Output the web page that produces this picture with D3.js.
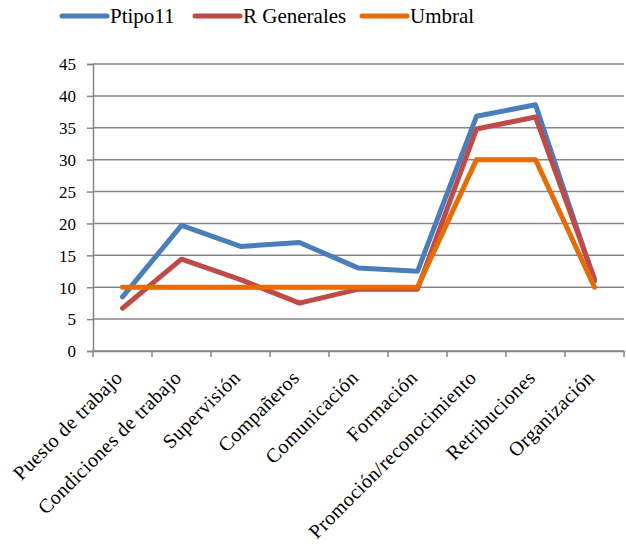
<!DOCTYPE html>
<html><head><meta charset="utf-8">
<script src="https://cdn.jsdelivr.net/npm/d3@7"></script>
<style>body{margin:0;background:#fff}svg{display:block}svg text{font-family:"Liberation Serif","Times New Roman",serif}</style>
</head><body>
<svg id="c" width="626" height="544"></svg>
<script>
const categories = ["Puesto de trabajo","Condiciones de trabajo","Supervisión","Compañeros","Comunicación","Formación","Promoción/reconocimiento","Retribuciones","Organización"];
const ptipo11 = [8.5, 19.7, 16.4, 17.0, 13.0, 12.5, 36.8, 38.6, 11.0];
const rGenerales = [6.7, 14.4, 11.2, 7.5, 9.7, 9.7, 34.8, 36.7, 11.3];
const umbral = [10, 10, 10, 10, 10, 10, 30, 30, 10];
const seriesNames = ["Ptipo11", "R Generales", "Umbral"];
const seriesColors = ["#4A7EBB", "#BE4B48", "#E46C0A"];
const yTicks = [0,5,10,15,20,25,30,35,40,45];

const svg = d3.select("#c");
const font = '"Liberation Serif", "Times New Roman", serif';
const m = {l:93, r:624, t:64, b:351};
const x = d3.scaleBand().domain(categories).range([m.l, m.r]);
const y = d3.scaleLinear().domain([0,45]).range([m.b, m.t]);

// gridlines
svg.append("g").selectAll("line").data(yTicks).join("line")
  .attr("x1", m.l).attr("x2", m.r)
  .attr("y1", d=>y(d)).attr("y2", d=>y(d))
  .attr("stroke", "#868686").attr("stroke-width", 1.5);

// y axis
const ya = svg.append("g").attr("transform", `translate(${m.l},0)`)
  .call(d3.axisLeft(y).tickValues(yTicks).tickSize(6).tickPadding(11).tickFormat(d3.format("d")));
ya.attr("font-family", null).attr("font-size", null);
ya.select(".domain").attr("stroke", "#868686").attr("stroke-width", 1.5);
ya.selectAll(".tick line").attr("stroke", "#868686").attr("stroke-width", 1.5);
ya.selectAll("text").style("font-family", font).style("font-size", "17px").attr("fill", "#000").attr("dy", "0.34em");

// x axis
const xa = svg.append("g").attr("transform", `translate(0,${m.b})`)
  .call(d3.axisBottom(x).tickSize(0).tickFormat(""));
xa.attr("font-family", null).attr("font-size", null);
xa.select(".domain").attr("stroke", "#868686").attr("stroke-width", 1.5);
const edges = categories.map(c => x(c)).concat([m.r]);
xa.append("g").selectAll("line").data(edges).join("line")
  .attr("x1", d=>d).attr("x2", d=>d).attr("y1", 0).attr("y2", 6)
  .attr("stroke", "#868686").attr("stroke-width", 1.5);
xa.append("g").selectAll("text").data(categories).join("text")
  .attr("transform", d => `translate(${x(d)+x.bandwidth()/2+1},28) rotate(-45)`)
  .attr("text-anchor", "end")
  .style("font-family", font).style("font-size", "20px").style("letter-spacing", "0.4px").attr("fill", "#000")
  .text(d=>d);

// lines
const line = d3.line().x((d,i)=>x(categories[i])+x.bandwidth()/2).y(d=>y(d));
[ptipo11, rGenerales, umbral].forEach((s, k) => {
  svg.append("path").datum(s).attr("d", line)
    .attr("fill","none").attr("stroke", seriesColors[k])
    .attr("stroke-width", 5).attr("stroke-linejoin","round").attr("stroke-linecap","round");
});

// legend
const legX = [62, 195, 362];
const lg = svg.append("g");
seriesNames.forEach((n,k) => {
  lg.append("line").attr("x1", legX[k]).attr("x2", legX[k]+45).attr("y1", 16).attr("y2", 16)
    .attr("stroke", seriesColors[k]).attr("stroke-width", 5).attr("stroke-linecap","round");
  lg.append("text").attr("x", legX[k]+48).attr("y", 23)
    .style("font-family", font).style("font-size", "21px").attr("fill", "#000").text(n);
});
</script>
</body></html>
